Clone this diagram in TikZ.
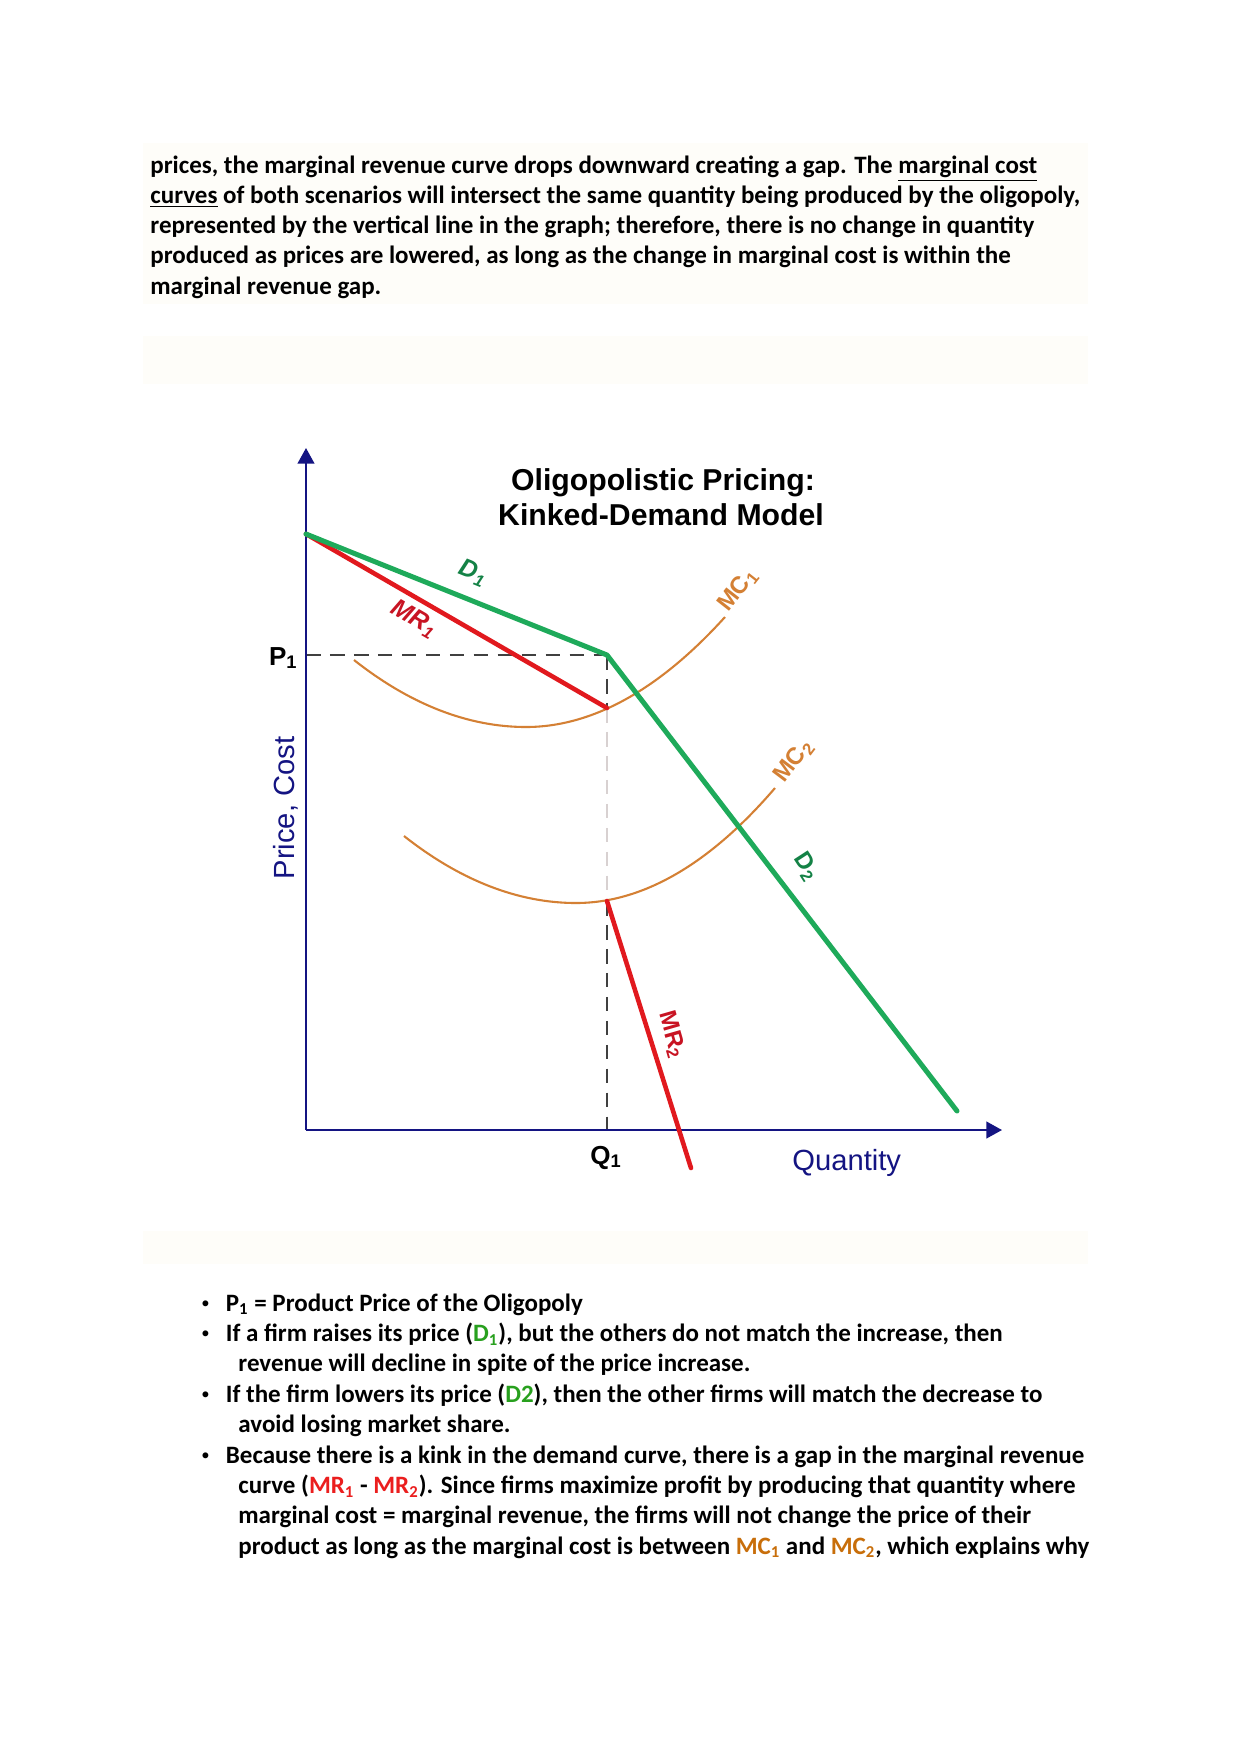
\documentclass[tikz,border=0pt]{standalone}
\usepackage{fontspec}
\setmainfont{Carlito}
\newfontfamily\chartfont{Liberation Sans}
\usetikzlibrary{arrows.meta, positioning}
\definecolor{axisnavy}{RGB}{20,20,130}
\definecolor{demgreen}{RGB}{30,170,90}
\definecolor{demlabel}{RGB}{20,130,70}
\definecolor{mrred}{RGB}{225,25,30}
\definecolor{mrlabel}{RGB}{200,20,35}
\definecolor{mcorange}{RGB}{212,128,52}
\definecolor{txtgreen}{RGB}{40,160,30}
\definecolor{txtred}{RGB}{235,30,30}
\definecolor{txtorange}{RGB}{200,110,10}
\definecolor{paper}{RGB}{254,253,249}

\begin{document}
\begin{tikzpicture}[x=0.48pt, y=-0.48pt,
  para/.style={anchor=base west, inner sep=0pt, font=\bfseries\fontsize{12}{14}\selectfont},
  bul/.style={anchor=base west, inner sep=0pt, font=\fontsize{8}{10}\selectfont},
  axis/.style={axisnavy, line width=1pt, -{Triangle[width=8pt, length=7.5pt]}},
  demand/.style={demgreen, line width=2.4pt, line cap=round, line join=round},
  mrev/.style={mrred, line width=2.2pt, line cap=round},
  mcost/.style={mcorange, line width=1pt},
  guide/.style={black!75, line width=1.1pt, dash pattern=on 7pt off 4.5pt},
  faintguide/.style={red!15!black!18, line width=0.8pt, dash pattern=on 7pt off 4.5pt},
  lbl/.style={inner sep=0pt, font=\chartfont\fontsize{12}{14}\selectfont}
]
  \fill[white] (0,0) rectangle (1241,1755);
  \useasboundingbox (0,0) rectangle (1241,1755);
  \fill[paper] (143,143) rectangle (1088,304);
  \fill[paper] (143,336) rectangle (1088,384);
  \fill[paper] (143,1231) rectangle (1088,1264);

  % opening paragraph
  \node[para] (l1) at (150,173) {prices, the marginal revenue curve drops downward creating a gap. The \underline{marginal cost}};
  \node[para] (l2) at (150,203.5) {\underline{curves} of both scenarios will intersect the same quantity being produced by the oligopoly,};
  \node[para] (l3) at (150,233.5) {represented by the vertical line in the graph; therefore, there is no change in quantity};
  \node[para] (l4) at (150,263.5) {produced as prices are lowered, as long as the change in marginal cost is within the};
  \node[para] (l5) at (150,294) {marginal revenue gap.};

  % graph
  \coordinate (O) at (306,1130);
  \coordinate (Ytop) at (306,448);
  \coordinate (Xtip) at (1002,1130);
  \coordinate (S) at (306,534);
  \coordinate (K) at (607,655);
  \coordinate (Kp) at (306,655);
  \coordinate (MRa) at (607,708);
  \coordinate (MRb) at (607,901);
  \coordinate (MRc) at (691,1168);
  \coordinate (Dend) at (957,1111);
  \coordinate (Q) at (607,1130);

  \draw[guide] (Kp) -- (K);
  \draw[guide] (K) -- (MRa);
  \draw[faintguide] (MRa) -- (MRb);
  \draw[guide] (MRb) -- (Q);

  \draw[axis] (O) -- (Ytop);
  \draw[axis] (O) -- (Xtip);

  \coordinate (mc1s) at (354,660);
  \coordinate (mc1m) at (526,727);
  \coordinate (mc1e) at (725,617);
  \draw[mcost] (mc1s) .. controls (411,705) and (469,727) .. (mc1m)
    .. controls (592,727) and (659,690) .. (mc1e);
  \coordinate (mc2s) at (404,836);
  \coordinate (mc2m) at (576,903);
  \coordinate (mc2e) at (775,788);
  \draw[mcost] (mc2s) .. controls (461,881) and (519,903) .. (mc2m)
    .. controls (642,903) and (709,865) .. (mc2e);

  \draw[mrev] (S) -- (MRa);
  \draw[mrev] (MRb) -- (MRc);
  \draw[demand] (S) -- (K) -- (Dend);

  \node[lbl, font=\chartfont\bfseries\fontsize{14.5}{16}\selectfont] (title1) at (663,490) [anchor=base] {Oligopolistic Pricing:};
  \node[lbl, font=\chartfont\bfseries\fontsize{14.5}{16}\selectfont] (title2) at (661,525) [anchor=base] {Kinked-Demand Model};

  \node[lbl, demlabel, font=\chartfont\bfseries\itshape\fontsize{12}{14}\selectfont, rotate=-22] (d1) at (473,573) {D\textsubscript{1}};
  \node[lbl, mrlabel, font=\chartfont\bfseries\itshape\fontsize{12}{14}\selectfont, rotate=-30] (mr1) at (414,619) {MR\textsubscript{1}};
  \node[lbl, mcorange, font=\chartfont\bfseries\fontsize{11.5}{14}\selectfont, rotate=52] (mc1) at (738,590) {MC\textsubscript{1}};
  \node[lbl, mcorange, font=\chartfont\bfseries\fontsize{11.5}{14}\selectfont, rotate=53] (mc2) at (794,761) {MC\textsubscript{2}};
  \node[lbl, demlabel, font=\chartfont\bfseries\fontsize{11.5}{14}\selectfont, rotate=-57] (d2) at (806,867) {D\textsubscript{2}};
  \node[lbl, mrlabel, font=\chartfont\bfseries\fontsize{11.5}{14}\selectfont, rotate=-74] (mr2) at (672,1035) {MR\textsubscript{2}};

  \node[lbl, anchor=base east, font=\chartfont\bfseries\fontsize{12.5}{14}\selectfont] (p1) at (298,665) {P\textsubscript{1}};
  \node[lbl, anchor=base, font=\chartfont\bfseries\fontsize{12.5}{14}\selectfont] (q1) at (606,1164) {Q\textsubscript{1}};
  \node[lbl, anchor=base west, axisnavy, font=\chartfont\fontsize{14}{16}\selectfont] (qty) at (792,1170) {Quantity};
  \node[lbl, anchor=base, axisnavy, rotate=90, font=\chartfont\fontsize{14}{16}\selectfont] (pc) at (294,808) {Price, Cost};

  % bullet list
  \foreach \yy in {1311,1341.4,1402.2,1463}
    \node[bul] at (201,\yy-2.5) {•};
  \node[para] (b1) at (225.5,1311) {P\textsubscript{1} = Product Price of the Oligopoly};
  \node[para] (b2) at (225.5,1341.4) {If a firm raises its price (\textcolor{txtgreen}{D\textsubscript{1}}), but the others do not match the increase, then};
  \node[para] (b3) at (238,1371.8) {revenue will decline in spite of the price increase.};
  \node[para] (b4) at (225.5,1402.2) {If the firm lowers its price (\textcolor{txtgreen}{D2}), then the other firms will match the decrease to};
  \node[para] (b5) at (238,1432.6) {avoid losing market share.};
  \node[para] (b6) at (225.5,1463) {Because there is a kink in the demand curve, there is a gap in the marginal revenue};
  \node[para] (b7) at (238,1493.4) {curve (\textcolor{txtred}{MR\textsubscript{1}} - \textcolor{txtred}{MR\textsubscript{2}}). Since firms maximize profit by producing that quantity where};
  \node[para] (b8) at (238,1523.8) {marginal cost = marginal revenue, the firms will not change the price of their};
  \node[para] (b9) at (238,1554.2) {product as long as the marginal cost is between \textcolor{txtorange}{MC\textsubscript{1}} and \textcolor{txtorange}{MC\textsubscript{2}}, which explains why};
\end{tikzpicture}
\end{document}
